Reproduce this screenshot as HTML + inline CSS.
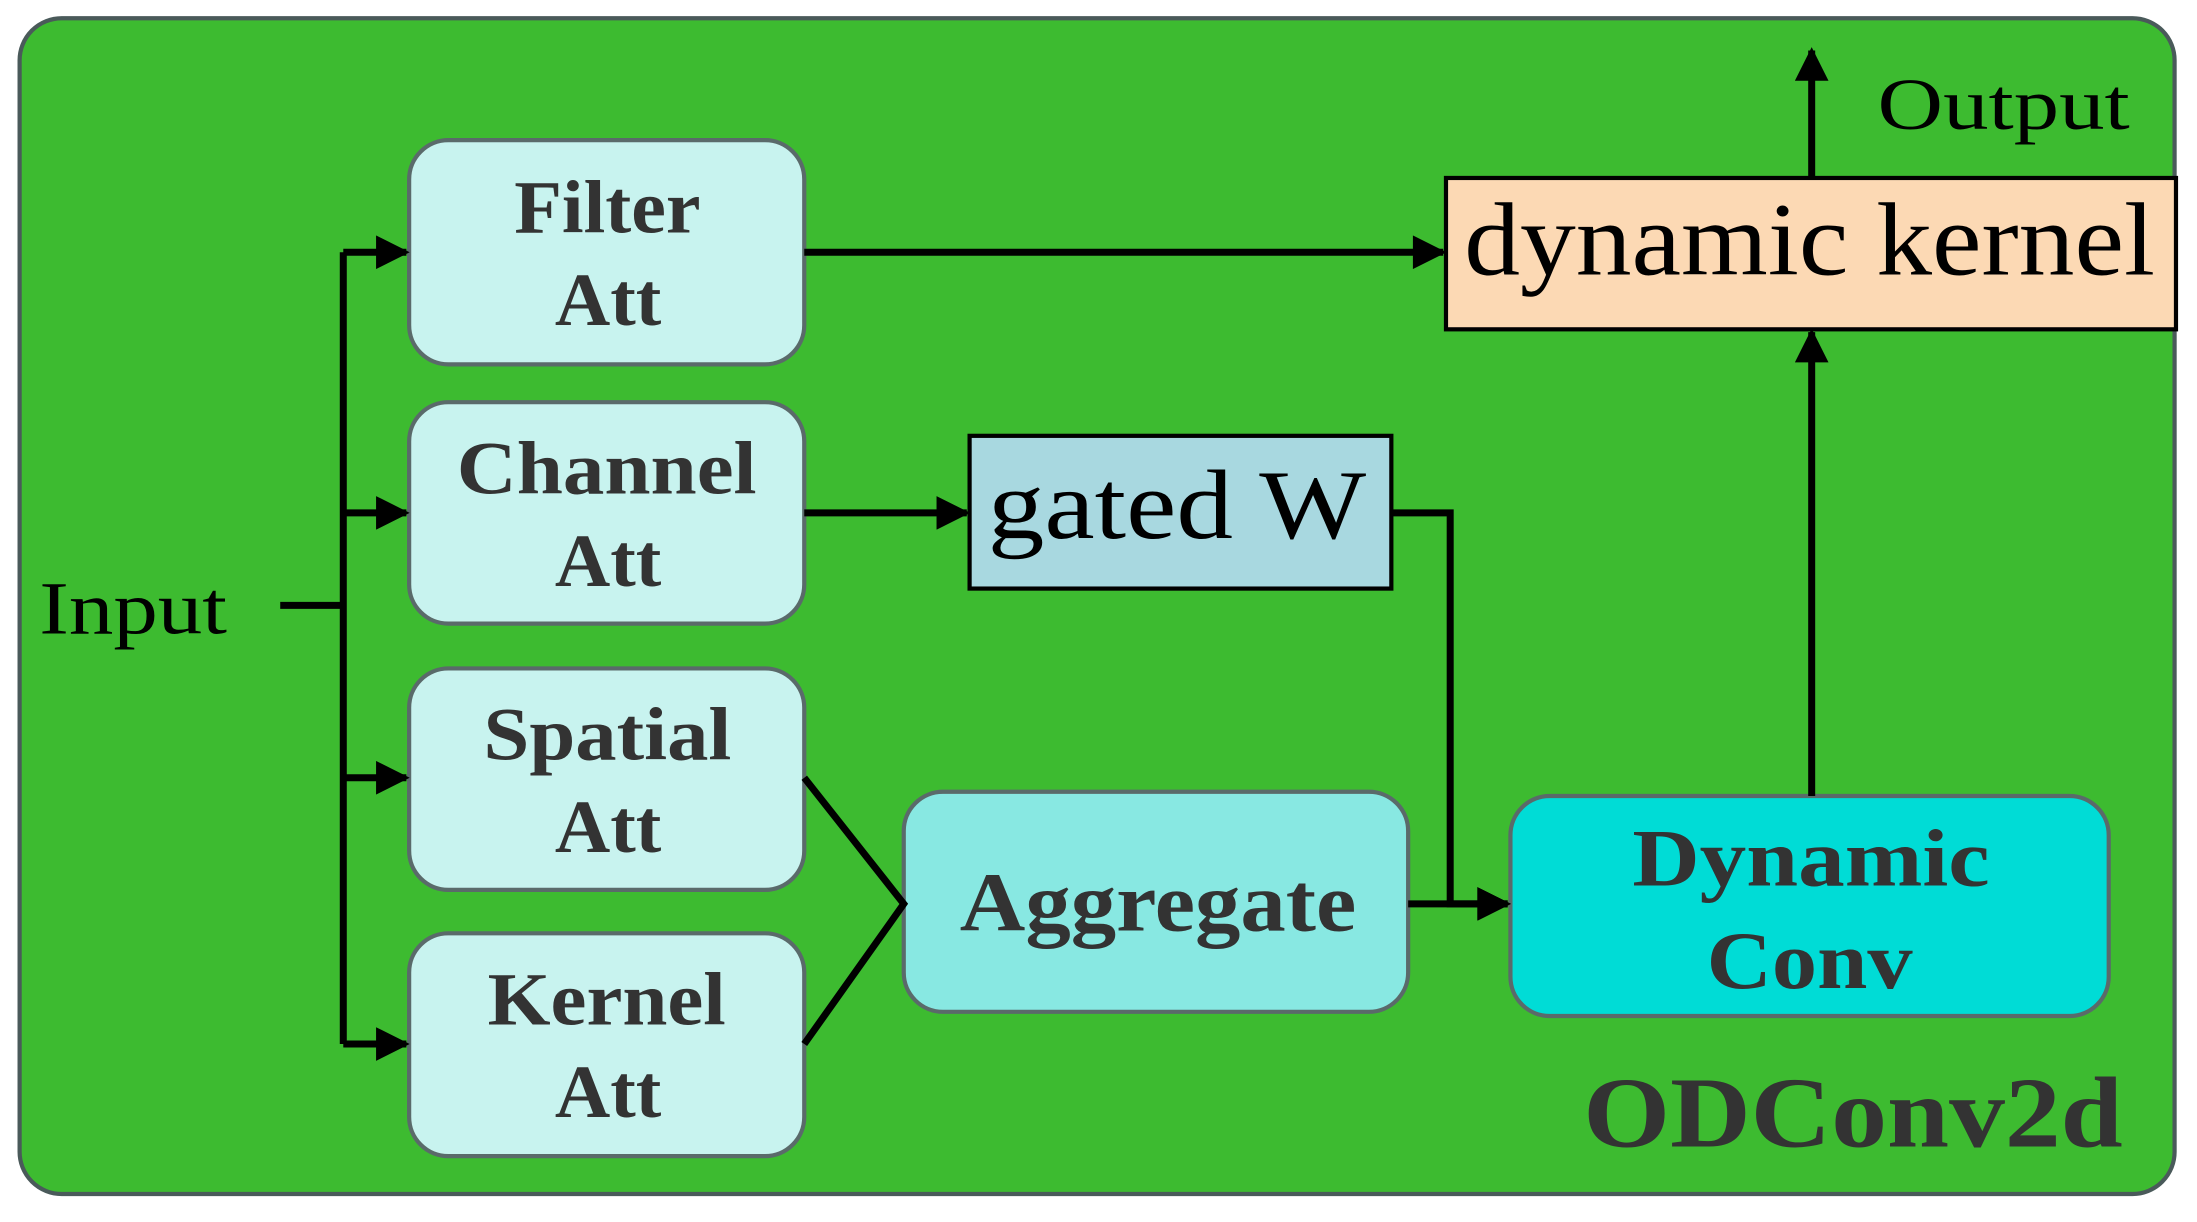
<!DOCTYPE html>
<html><head><meta charset="utf-8"><style>html,body{margin:0;padding:0;background:#fff}svg{display:block}</style></head>
<body>
<svg width="2197" height="1222" viewBox="0 0 1568 872" preserveAspectRatio="none" xmlns="http://www.w3.org/2000/svg" font-family="'Liberation Serif', serif">
<defs>
<marker id="b" viewBox="0 0 10 10" refX="9" refY="5" markerWidth="40" markerHeight="24" orient="auto" markerUnits="userSpaceOnUse"><path d="M0,0 L10,5 L0,10 z" fill="#000"/></marker></defs>
<rect x="14" y="13" width="1538" height="839" rx="30" fill="#3dbb30" stroke="#4a5a5a" stroke-width="3"/>
<g fill="#c8f3ef" stroke="#5a6a6a" stroke-width="3">
<rect x="292" y="100" width="282" height="160" rx="28"/>
<rect x="292" y="287" width="282" height="158" rx="28"/>
<rect x="292" y="477" width="282" height="158" rx="28"/>
<rect x="292" y="666" width="282" height="159" rx="28"/>
<rect x="645" y="565" width="360" height="157" rx="28" fill="#88e8e2"/>
<rect x="1078" y="568" width="427" height="157" rx="28" fill="#00dcd6"/>
</g>
<rect x="692" y="311" width="301" height="109" fill="#a8d8e0" stroke="#000" stroke-width="3"/>
<rect x="1032" y="127" width="521" height="108" fill="#fcd9b4" stroke="#000" stroke-width="3"/>
<g stroke="#000" stroke-width="5" fill="none">
<path d="M200,432 H245"/>
<path d="M245,180 V745"/>
<path d="M245,180 H290" marker-end="url(#b)"/>
<path d="M245,366 H290" marker-end="url(#b)"/>
<path d="M245,555 H290" marker-end="url(#b)"/>
<path d="M245,745 H290" marker-end="url(#b)"/>
<path d="M574,180 H1030" marker-end="url(#b)"/>
<path d="M574,366 H690" marker-end="url(#b)"/>
<path d="M993,366 H1035 V645 H1076" marker-end="url(#b)"/>
<path d="M574,555 L645,645 L574,745"/>
<path d="M1005,645 H1076" marker-end="url(#b)"/>
<path d="M1293,568 V237" marker-end="url(#b)"/>
<path d="M1293,127 V36" marker-end="url(#b)"/>
</g>
<g fill="#333" font-weight="bold" font-size="54">
<text x="367" y="166" textLength="133" lengthAdjust="spacingAndGlyphs">Filter</text><text x="396" y="232" textLength="76" lengthAdjust="spacingAndGlyphs">Att</text>
<text x="326" y="352" textLength="214" lengthAdjust="spacingAndGlyphs">Channel</text><text x="396" y="418" textLength="76" lengthAdjust="spacingAndGlyphs">Att</text>
<text x="345" y="542" textLength="177" lengthAdjust="spacingAndGlyphs">Spatial</text><text x="396" y="608" textLength="76" lengthAdjust="spacingAndGlyphs">Att</text>
<text x="348" y="731" textLength="170" lengthAdjust="spacingAndGlyphs">Kernel</text><text x="396" y="797" textLength="76" lengthAdjust="spacingAndGlyphs">Att</text>
<text x="685" y="664" font-size="60" textLength="283" lengthAdjust="spacingAndGlyphs">Aggregate</text>
<text x="1165" y="632" font-size="58" textLength="255" lengthAdjust="spacingAndGlyphs">Dynamic</text><text x="1218" y="705" font-size="58" textLength="147" lengthAdjust="spacingAndGlyphs">Conv</text>
<text x="1130" y="818" font-size="72" textLength="385" lengthAdjust="spacingAndGlyphs">ODConv2d</text>
</g>
<g fill="#000" font-size="54">
<text x="28" y="452" textLength="134" lengthAdjust="spacingAndGlyphs">Input</text>
<text x="1340" y="92" font-size="52" textLength="180" lengthAdjust="spacingAndGlyphs">Output</text>
<text x="705" y="384" font-size="70" textLength="270" lengthAdjust="spacingAndGlyphs">gated W</text>
<text x="1045" y="196" font-size="74" textLength="493" lengthAdjust="spacingAndGlyphs">dynamic kernel</text>
</g>
</svg>
</body></html>
